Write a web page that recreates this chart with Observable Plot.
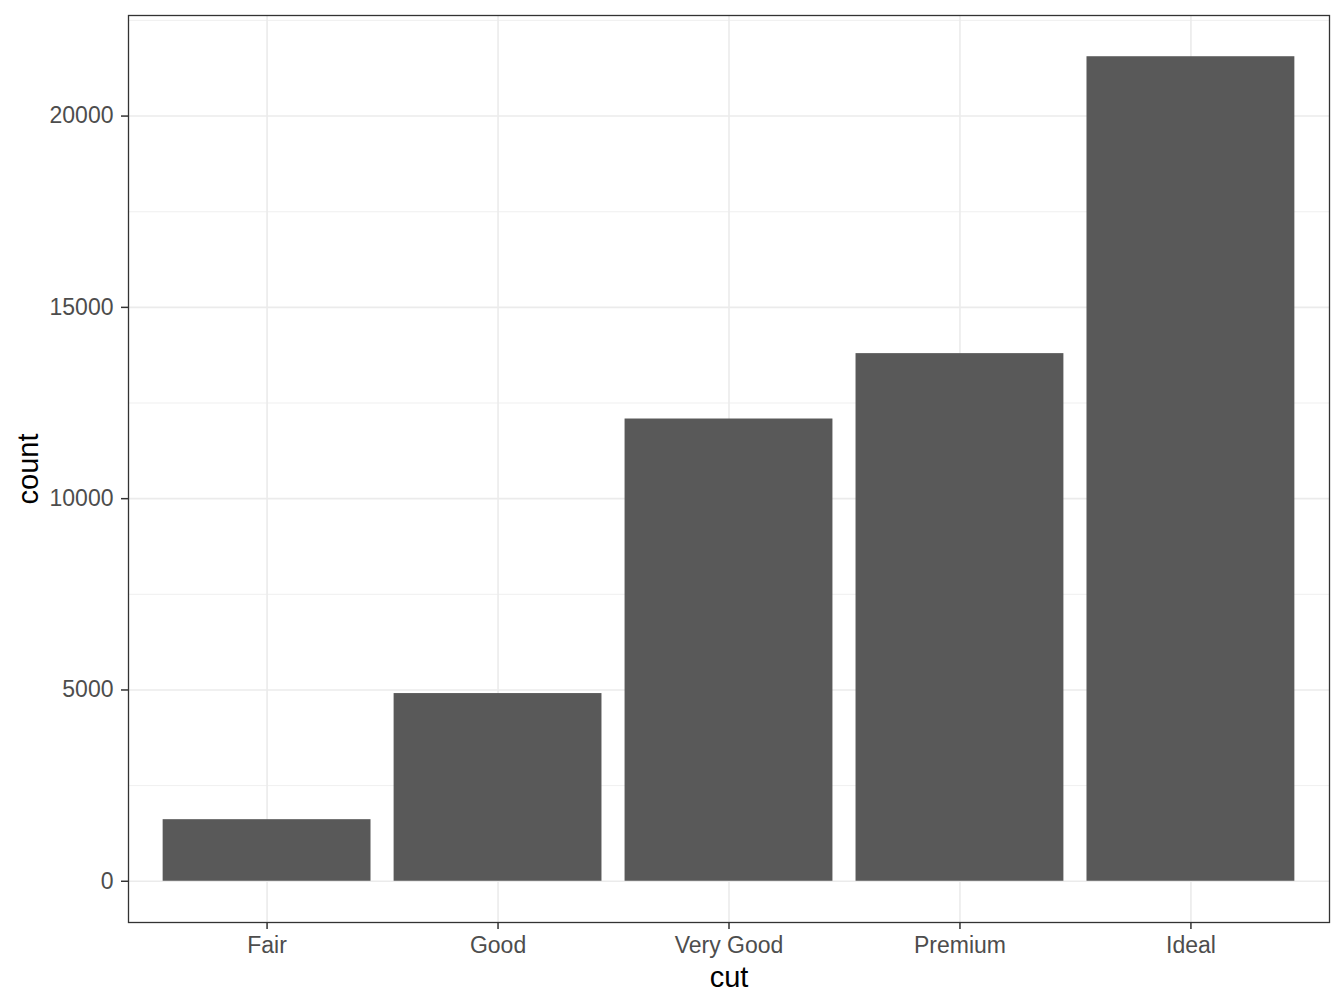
<!DOCTYPE html>
<html>
<head>
<meta charset="utf-8">
<script src="https://cdn.jsdelivr.net/npm/d3@7"></script>
<script src="https://cdn.jsdelivr.net/npm/@observablehq/plot@0.6"></script>
<style>
  html, body { margin: 0; padding: 0; background: #fff; }
</style>
</head>
<body>
<div id="chart"></div>
<script>
const cuts = ["Fair", "Good", "Very Good", "Premium", "Ideal"];
const counts = [1610, 4906, 12082, 13791, 21551];
const majorTicks = [0, 5000, 10000, 15000, 20000];
const minorTicks = [2500, 7500, 12500, 17500, 22500];

const data = cuts.map((c, i) => ({cut: c, count: counts[i]}));
const maxV = d3.max(counts);
const pad = maxV * 0.05;

const chart = Plot.plot({
  width: 1344,
  height: 1008,
  marginLeft: 128,
  marginRight: 15,
  marginTop: 15,
  marginBottom: 86,
  style: {fontFamily: "'Liberation Sans', Arial, sans-serif", background: "#fff"},
  x: {domain: cuts, paddingInner: 0.1, paddingOuter: 0.15, round: false},
  y: {domain: [-pad, maxV + pad]},
  marks: [
    Plot.gridY({ticks: minorTicks, stroke: "#ebebeb", strokeOpacity: 1, strokeWidth: 0.8}),
    Plot.gridY({ticks: majorTicks, stroke: "#ebebeb", strokeOpacity: 1, strokeWidth: 1.6}),
    Plot.gridX({stroke: "#ebebeb", strokeOpacity: 1, strokeWidth: 1.6}),
    Plot.barY(data, {x: "cut", y: "count", fill: "#595959"}),
    Plot.frame({stroke: "#333333", strokeWidth: 1.3}),
    Plot.axisX({tickSize: 7, tickPadding: 7, fontSize: 23, stroke: "#333333", strokeWidth: 1.5, fill: "#4d4d4d", label: null}),
    Plot.axisY({ticks: majorTicks, tickFormat: d => String(d), tickSize: 7, tickPadding: 8, fontSize: 23, stroke: "#333333", strokeWidth: 1.5, fill: "#4d4d4d", label: null}),
    Plot.text(["count"], {frameAnchor: "left", dx: -100, rotate: -90, textAnchor: "middle", lineAnchor: "middle", fontSize: 29, fill: "#000", text: d => d}),
    Plot.text(["cut"], {frameAnchor: "bottom", dy: 55, textAnchor: "middle", lineAnchor: "middle", fontSize: 29, fill: "#000", text: d => d})
  ]
});
document.getElementById("chart").appendChild(chart);
</script>
</body>
</html>
